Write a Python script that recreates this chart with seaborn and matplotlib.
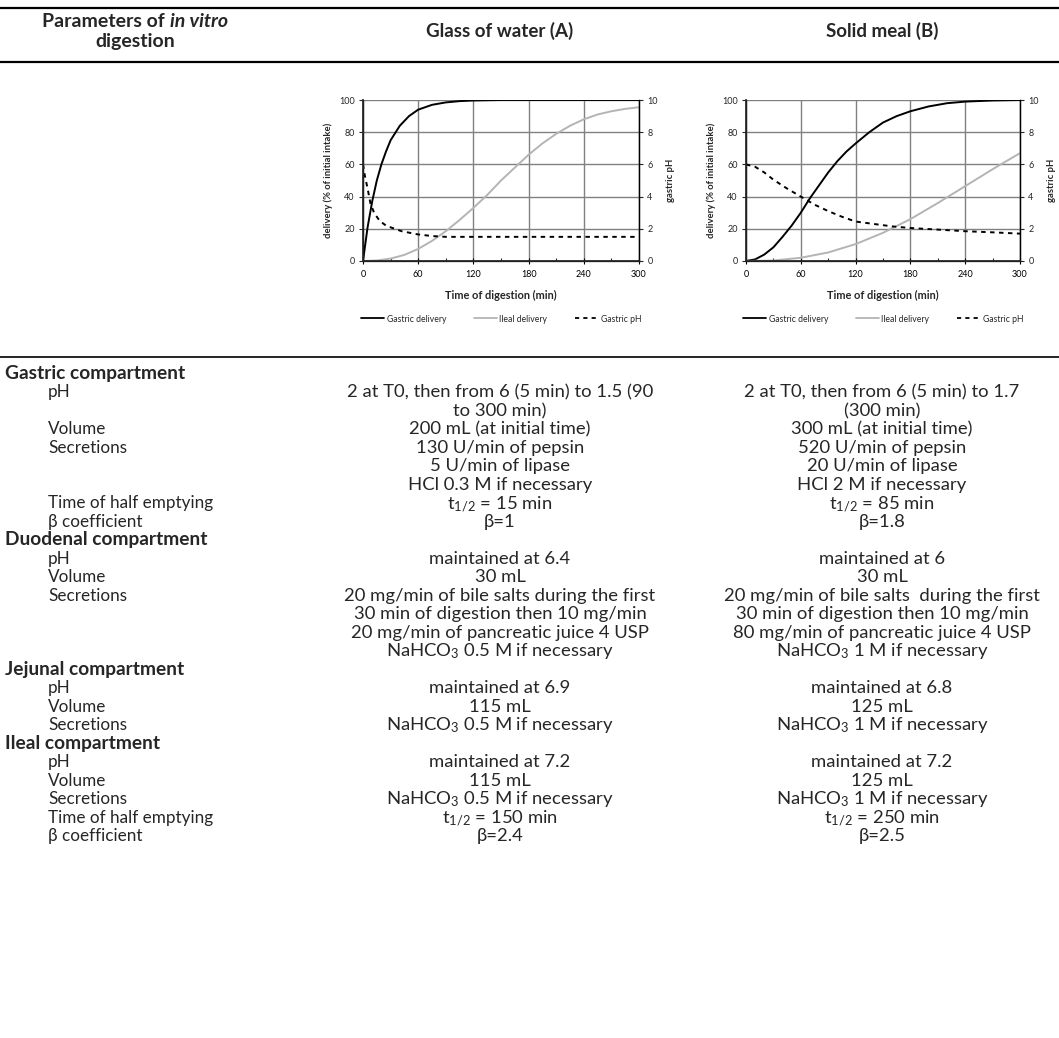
import numpy as np
import pandas as pd
import seaborn as sns
import matplotlib
matplotlib.use("Agg")
import matplotlib.pyplot as plt
from matplotlib.lines import Line2D
from matplotlib.ticker import MultipleLocator

sns.set_theme(style="white")
plt.rcParams['font.family'] = ['Lato', 'DejaVu Sans']
plt.rcParams['mathtext.fontset'] = 'custom'
plt.rcParams['mathtext.rm'] = 'Lato'
plt.rcParams['mathtext.it'] = 'Lato:italic'
plt.rcParams['mathtext.bf'] = 'Lato:bold'

# ---------------- digestion kinetics: glass of water (A) ----------------
time_a_gastric = [0, 5, 10, 15, 20, 25, 30, 40, 50, 60, 75, 90, 105, 120, 150, 180, 240, 300]
gastric_a = [0, 21, 37, 50, 60, 68, 75, 84, 90, 94, 97, 98.5, 99.3, 99.7, 100, 100, 100, 100]

time_a_ileal = [0, 15, 30, 45, 60, 75, 90, 105, 120, 135, 150, 165, 180, 195, 210, 225, 240, 255, 270, 285, 300]
ileal_a = [0, 0.3, 1.5, 3.8, 7.5, 12.5, 18.5, 25.5, 33, 41, 50, 58, 66, 73, 79, 84, 88, 91, 93, 94.5, 95.5]

time_a_ph = [0, 2, 5, 8, 12, 18, 25, 32, 42, 60, 75, 90, 120, 180, 240, 300]
ph_a = [6.0, 5.3, 4.5, 3.6, 3.0, 2.5, 2.2, 2.05, 1.85, 1.65, 1.55, 1.5, 1.5, 1.5, 1.5, 1.5]

# ---------------- digestion kinetics: solid meal (B) ----------------
time_b_gastric = [0, 10, 20, 30, 40, 50, 60, 70, 80, 90, 100, 110, 120, 135, 150, 165, 180, 200, 220, 240, 270, 300]
gastric_b = [0, 1, 4, 8.5, 15, 22, 30, 39, 47, 55, 62, 68, 73, 80, 86, 90, 93, 96, 98, 99, 99.7, 100]

time_b_ileal = [0, 30, 60, 90, 120, 150, 180, 210, 240, 270, 300]
ileal_b = [0, 0.3, 2, 5.3, 10.5, 17.5, 26, 36, 46.5, 57, 67]

time_b_ph = [0, 10, 20, 30, 45, 60, 75, 90, 105, 120, 140, 160, 180, 210, 240, 270, 300]
ph_b = [6.0, 5.85, 5.5, 5.05, 4.5, 4.0, 3.5, 3.1, 2.75, 2.45, 2.3, 2.15, 2.05, 1.95, 1.85, 1.78, 1.7]

x_ticks = [0, 60, 120, 180, 240, 300]
legend_labels = ["Gastric delivery", "Ileal delivery", "Gastric pH"]

# ---------------- table text ----------------
header_left = ["Parameters of ", "in vitro", "digestion"]
header_a = "Glass of water (A)"
header_b = "Solid meal (B)"

# (kind, label, column A lines, column B lines)
rows = [
    ("section", "Gastric compartment", [], []),
    ("item", "pH", ["2 at T0, then from 6 (5 min) to 1.5 (90", "to 300 min)"],
     ["2 at T0, then from 6 (5 min) to 1.7", "(300 min)"]),
    ("item", "Volume", ["200 mL (at initial time)"], ["300 mL (at initial time)"]),
    ("item", "Secretions", ["130 U/min of pepsin", "5 U/min of lipase", "HCl 0.3 M if necessary"],
     ["520 U/min of pepsin", "20 U/min of lipase", "HCl 2 M if necessary"]),
    ("item", "Time of half emptying", ["t$_{1/2}$ = 15 min"], ["t$_{1/2}$ = 85 min"]),
    ("item", "β coefficient", ["β=1"], ["β=1.8"]),
    ("section", "Duodenal compartment", [], []),
    ("item", "pH", ["maintained at 6.4"], ["maintained at 6"]),
    ("item", "Volume", ["30 mL"], ["30 mL"]),
    ("item", "Secretions",
     ["20 mg/min of bile salts during the first", "30 min of digestion then 10 mg/min",
      "20 mg/min of pancreatic juice 4 USP", "NaHCO$_3$ 0.5 M if necessary"],
     ["20 mg/min of bile salts  during the first", "30 min of digestion then 10 mg/min",
      "80 mg/min of pancreatic juice 4 USP", "NaHCO$_3$ 1 M if necessary"]),
    ("section", "Jejunal compartment", [], []),
    ("item", "pH", ["maintained at 6.9"], ["maintained at 6.8"]),
    ("item", "Volume", ["115 mL"], ["125 mL"]),
    ("item", "Secretions", ["NaHCO$_3$ 0.5 M if necessary"], ["NaHCO$_3$ 1 M if necessary"]),
    ("section", "Ileal compartment", [], []),
    ("item", "pH", ["maintained at 7.2"], ["maintained at 7.2"]),
    ("item", "Volume", ["115 mL"], ["125 mL"]),
    ("item", "Secretions", ["NaHCO$_3$ 0.5 M if necessary"], ["NaHCO$_3$ 1 M if necessary"]),
    ("item", "Time of half emptying", ["t$_{1/2}$ = 150 min"], ["t$_{1/2}$ = 250 min"]),
    ("item", "β coefficient", ["β=2.4"], ["β=2.5"]),
]

W, H = 1059, 1038
fig = plt.figure(figsize=(W / 100, H / 100), dpi=100)
fig.patch.set_facecolor("white")


def fx(x):
    return x / W


def fy(y):
    return 1 - y / H


GRID = "#808080"
ILEAL = "#b4b4b4"
TICK_FS = 6.5
LABEL_FS = 6.8


def kinetics_panel(left, right, top, bottom, tg, g, ti, il, tp, ph):
    ax = fig.add_axes([fx(left), fy(bottom), fx(right - left), (bottom - top) / H])
    sns.lineplot(x=tg, y=g, ax=ax, color="black", lw=1.4, legend=False)
    sns.lineplot(x=ti, y=il, ax=ax, color=ILEAL, lw=1.4, legend=False)
    ax.set_xlim(0, 300)
    ax.set_ylim(0, 100)
    ax.set_xticks(x_ticks)
    ax.xaxis.set_minor_locator(MultipleLocator(30))
    ax.set_yticks(range(0, 101, 20))
    ax.grid(True, which="major", color=GRID, lw=1.0)
    ax.set_axisbelow(True)
    for s in ["left", "right", "bottom"]:
        ax.spines[s].set_color("black")
        ax.spines[s].set_linewidth(0.9)
    ax.spines["top"].set_visible(False)
    ax.tick_params(axis="x", which="major", direction="inout", length=5, width=0.8,
                   labelsize=TICK_FS, pad=4, colors="black", bottom=True)
    ax.tick_params(axis="x", which="minor", direction="in", length=2.5, width=0.8, bottom=True)
    ax.tick_params(axis="y", direction="out", length=3, width=0.8, labelsize=TICK_FS,
                   pad=3, left=True)
    ax.set_xlabel("Time of digestion (min)", fontsize=7.9, fontweight="bold", labelpad=8)
    ax.set_ylabel("delivery (% of initial intake)", fontsize=LABEL_FS, fontweight="bold", labelpad=4)

    ax2 = ax.twinx()
    sns.lineplot(x=tp, y=ph, ax=ax2, color="black", lw=1.4, legend=False)
    ax2.lines[0].set_dashes([2.3, 2.3])
    ax2.set_ylim(0, 10)
    ax2.set_yticks(range(0, 11, 2))
    ax2.grid(False)
    ax2.spines["top"].set_visible(False)
    ax2.spines["right"].set_color("black")
    ax2.spines["right"].set_linewidth(0.9)
    ax2.tick_params(axis="y", direction="out", length=3, width=0.8, labelsize=TICK_FS, pad=3, right=True)
    ax2.set_ylabel("gastric pH", fontsize=LABEL_FS, fontweight="bold", labelpad=6)

    handles = [Line2D([], [], color="black", lw=1.3),
               Line2D([], [], color=ILEAL, lw=1.3),
               Line2D([], [], color="black", lw=1.3, dashes=[2.3, 2.3])]
    ax.legend(handles, legend_labels, loc="center", bbox_to_anchor=(0.5, (bottom - 319) / (bottom - top)),
              ncol=3, frameon=False, fontsize=6.2, handlelength=2.7, handletextpad=0.3,
              columnspacing=3.2)
    return ax


kinetics_panel(363, 639, 100, 261, time_a_gastric, gastric_a, time_a_ileal, ileal_a, time_a_ph, ph_a)
kinetics_panel(746, 1020, 100, 261, time_b_gastric, gastric_b, time_b_ileal, ileal_b, time_b_ph, ph_b)

# ---------------- table rules ----------------
for y, lw in [(8, 1.6), (62, 1.6), (357, 1.2)]:
    fig.add_artist(Line2D([0, 1], [fy(y), fy(y)], color="black", lw=lw, transform=fig.transFigure))

# ---------------- header ----------------
HFS = 13.5
LHFS = HFS + 0.5
renderer = fig.canvas.get_renderer()
t1 = fig.text(0, fy(27), header_left[0].rstrip(), fontsize=LHFS, fontweight="bold", va="baseline")
t2 = fig.text(0, fy(27), header_left[1], fontsize=LHFS, fontweight="bold", style="italic", va="baseline")
sp = fig.text(0, 0, "a a", fontsize=LHFS, fontweight="bold")
sp2 = fig.text(0, 0, "aa", fontsize=LHFS, fontweight="bold")
space_w = sp.get_window_extent(renderer).width - sp2.get_window_extent(renderer).width
sp.remove()
sp2.remove()
w1 = t1.get_window_extent(renderer).width
w2 = t2.get_window_extent(renderer).width
x0 = 135 - (w1 + space_w + w2) / 2
t1.set_x(fx(x0))
t2.set_x(fx(x0 + w1 + space_w))
fig.text(fx(135), fy(47), header_left[2], fontsize=LHFS, fontweight="bold", ha="center", va="baseline")
fig.text(fx(500), fy(37), header_a, fontsize=HFS, fontweight="bold", ha="center", va="baseline")
fig.text(fx(882), fy(37), header_b, fontsize=HFS, fontweight="bold", ha="center", va="baseline")

# ---------------- table body ----------------
LFS = 12.3    # row labels
VFS = 13.3    # values
SFS = 13.8    # compartment headings
y0 = 373
dy = 18.48
line = 0
for kind, label, col_a, col_b in rows:
    yb = y0 + line * dy + 6
    if kind == "section":
        fig.text(fx(5), fy(yb), label, fontsize=SFS, fontweight="bold", va="baseline")
        line += 1
        continue
    fig.text(fx(48), fy(yb), label, fontsize=LFS, va="baseline")
    for i, s in enumerate(col_a):
        fig.text(fx(500), fy(yb + i * dy), s, fontsize=VFS, ha="center", va="baseline")
    for i, s in enumerate(col_b):
        fig.text(fx(882), fy(yb + i * dy), s, fontsize=VFS, ha="center", va="baseline")
    line += max(len(col_a), len(col_b), 1)

fig.savefig("out.png", dpi=100, facecolor="white")
